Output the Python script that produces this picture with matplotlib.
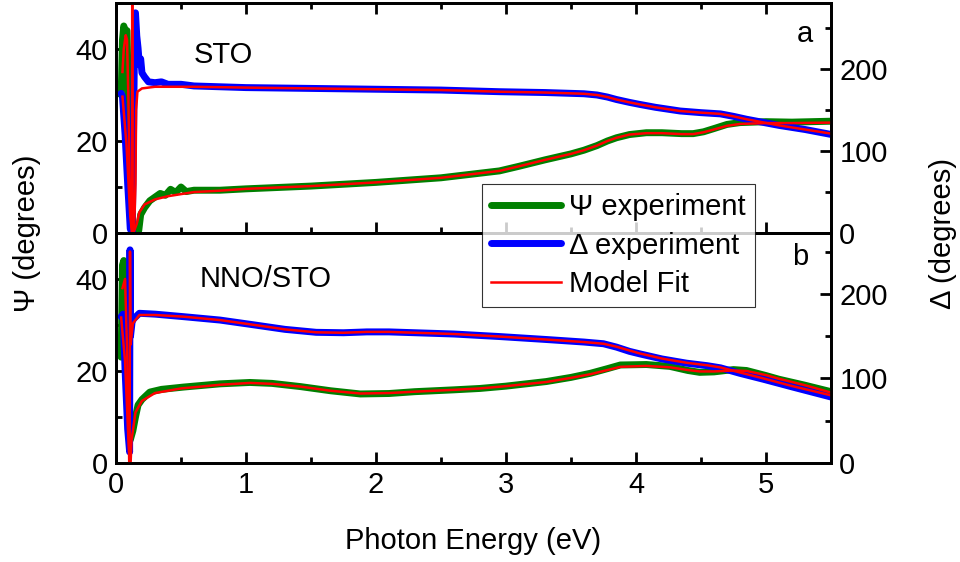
import matplotlib
matplotlib.use("Agg")
import matplotlib.pyplot as plt
from matplotlib.ticker import MultipleLocator

plt.rcParams['font.family'] = ['Liberation Sans', 'DejaVu Sans']

# ---- STO (panel a) ----
sto_psi_E = [0.04, 0.05, 0.06, 0.07, 0.085, 0.095, 0.11, 0.13, 0.15, 0.175, 0.19, 0.22, 0.26,
             0.30, 0.34, 0.38, 0.42, 0.46, 0.50, 0.54, 0.60, 0.80, 1.0, 1.5, 2.0, 2.5, 2.8,
             2.95, 3.1, 3.3, 3.5, 3.6, 3.7, 3.78, 3.85, 3.95, 4.08, 4.2, 4.35, 4.44, 4.52,
             4.6, 4.7, 4.8, 5.0, 5.2, 5.5]
sto_psi = [30, 42, 45, 44, 44, 30, 10, 1, 0, 0.5, 4, 5.5, 7.0,
           7.8, 8.6, 8.2, 9.5, 8.8, 10.0, 9.0, 9.3, 9.3, 9.6, 10.2, 11.0, 12.0, 13.0,
           13.5, 14.5, 15.9, 17.2, 18.0, 19.0, 20.0, 20.7, 21.4, 21.8, 21.8, 21.6, 21.6, 22.0,
           22.7, 23.6, 24.0, 24.2, 24.1, 24.3]

sto_del_E = [0.04, 0.05, 0.07, 0.09, 0.11, 0.125, 0.135, 0.145, 0.15, 0.16, 0.17, 0.18,
             0.19, 0.20, 0.22, 0.25, 0.30, 0.35, 0.40, 0.50, 0.60, 1.0, 1.5, 2.0, 2.5, 2.95,
             3.3, 3.5, 3.6, 3.7, 3.78, 3.85, 3.95, 4.03, 4.15, 4.34, 4.5, 4.65, 4.75, 4.85,
             5.0, 5.1, 5.3, 5.5]
sto_del = [170, 166, 120, 60, 5, 0, 120, 266, 268, 240, 225, 205,
           212, 195, 190, 184, 183, 184, 181, 181, 179, 177, 176, 175, 174, 172,
           171, 170, 169.5, 168, 165.5, 162.5, 159, 156.5, 153, 148.5, 146.5, 145, 142, 138.5,
           134, 131, 126, 120]

sto_psi_fit_E = [0.05, 0.06, 0.075, 0.085, 0.095, 0.105, 0.12, 0.14, 0.16, 0.18, 0.22, 0.30,
                 0.40, 0.60, 0.80, 1.0, 1.5, 2.0, 2.5, 2.95, 3.1, 3.3, 3.5, 3.6, 3.7, 3.78,
                 3.85, 3.95, 4.08, 4.2, 4.35, 4.44, 4.52, 4.6, 4.7, 4.8, 5.0, 5.2, 5.5]
sto_psi_fit = [35, 40, 43, 42, 30, 12, 2, 0.5, 2, 4.5, 6.2, 7.3,
               8.0, 8.9, 9.2, 9.6, 10.2, 11.0, 12.0, 13.5, 14.5, 15.9, 17.2, 18.0, 19.0, 20.0,
               20.7, 21.4, 21.7, 21.7, 21.5, 21.5, 21.9, 22.5, 23.3, 23.7, 23.9, 23.9, 24.0]

sto_del_fit_E = [0.05, 0.08, 0.11, 0.124, 0.125, 0.126, 0.14, 0.15, 0.155, 0.165, 0.2, 0.3,
                 0.6, 1.0, 1.5, 2.0, 2.5, 2.95, 3.3, 3.5, 3.6, 3.7, 3.78, 3.85, 3.95, 4.03,
                 4.15, 4.34, 4.5, 4.65, 4.75, 4.85, 5.0, 5.1, 5.3, 5.5]
sto_del_fit = [166, 110, 20, 0, 300, -10, 5, 60, 150, 172, 176, 178,
               178, 177, 176, 175, 174, 172, 171, 170, 169.5, 168, 165.5, 162.5, 159, 156.5,
               153, 148.5, 146.5, 145, 142, 138.5, 134, 131, 126, 121]

# ---- NNO/STO (panel b) ----
nno_psi_E = [0.04, 0.05, 0.06, 0.07, 0.08, 0.09, 0.10, 0.11, 0.13, 0.15, 0.17, 0.20, 0.26,
             0.35, 0.52, 0.80, 1.03, 1.2, 1.42, 1.65, 1.88, 2.1, 2.3, 2.6, 2.8, 3.0, 3.31,
             3.5, 3.65, 3.78, 3.88, 4.08, 4.26, 4.4, 4.49, 4.6, 4.75, 4.85, 5.0, 5.1, 5.3, 5.5]
nno_psi = [23, 43, 44, 35, 40, 25, 10, 5, 7, 10, 12.6, 13.8, 15.4,
           16.0, 16.5, 17.2, 17.5, 17.3, 16.6, 15.7, 15.0, 15.1, 15.5, 15.9, 16.2, 16.7, 17.7,
           18.6, 19.5, 20.5, 21.3, 21.4, 21.0, 20.1, 19.7, 19.8, 20.3, 20.1, 19.0, 18.2, 16.9, 15.5]

nno_del_E = [0.04, 0.055, 0.07, 0.09, 0.105, 0.108, 0.112, 0.125, 0.14, 0.18, 0.30, 0.52,
             0.80, 1.03, 1.3, 1.54, 1.75, 1.93, 2.1, 2.3, 2.6, 2.95, 3.31, 3.6, 3.75, 3.85,
             3.95, 4.03, 4.2, 4.39, 4.55, 4.65, 4.8, 4.98, 5.2, 5.5]
nno_del = [173, 176, 110, 40, 13, 252, 150, 168, 171, 177, 176, 173,
           169, 164, 158, 154.5, 154, 155, 155, 154, 152.5, 149.5, 146, 143, 141, 137,
           132, 129, 123, 118, 115, 112.5, 106, 99, 90, 78]

nno_psi_fit_E = [0.05, 0.07, 0.09, 0.105, 0.12, 0.15, 0.20, 0.30, 0.50, 0.80, 1.03, 1.2,
                 1.42, 1.65, 1.88, 2.1, 2.3, 2.6, 2.8, 3.0, 3.31, 3.5, 3.65, 3.78, 3.88,
                 4.08, 4.26, 4.4, 4.49, 4.6, 4.75, 4.85, 5.0, 5.1, 5.3, 5.5]
nno_psi_fit = [38, 40, 20, -5, 5, 11, 13.5, 15.2, 16.2, 17.0, 17.4, 17.2,
               16.6, 15.7, 15.1, 15.2, 15.5, 15.9, 16.2, 16.7, 17.6, 18.5, 19.3, 20.2, 20.9,
               21.1, 20.8, 20.2, 19.9, 19.9, 20.1, 20.0, 19.1, 18.3, 16.9, 15.3]

nno_del_fit_E = [0.04, 0.07, 0.095, 0.105, 0.108, 0.112, 0.13, 0.18, 0.30, 0.52, 0.80, 1.03,
                 1.3, 1.54, 1.75, 1.93, 2.1, 2.3, 2.6, 2.95, 3.31, 3.6, 3.75, 3.85, 3.95,
                 4.03, 4.2, 4.39, 4.55, 4.65, 4.8, 4.98, 5.2, 5.5]
nno_del_fit = [172, 120, 30, 5, 250, 140, 165, 175, 175, 173, 169, 164,
               158, 154.5, 154, 155, 155, 154, 152.5, 149.5, 146, 143, 141, 137.5, 133,
               129.5, 123.5, 118.5, 115.5, 113, 107, 100, 91, 80]

panel_tags = ['a', 'b']
panel_names = ['STO', 'NNO/STO']

GREEN = '#008000'
BLUE = '#0000ff'
RED = '#ff0000'
FS = 21

fig = plt.figure(figsize=(9.6, 5.62), dpi=100)
ax_top = fig.add_axes([0.1208, 0.5854, 0.7448, 0.4093])
ax_bot = fig.add_axes([0.1208, 0.1762, 0.7448, 0.4093], sharex=ax_top)

panels = [
    (ax_top, sto_psi_E, sto_psi, sto_del_E, sto_del, sto_psi_fit_E, sto_psi_fit,
     sto_del_fit_E, sto_del_fit, 280),
    (ax_bot, nno_psi_E, nno_psi, nno_del_E, nno_del, nno_psi_fit_E, nno_psi_fit,
     nno_del_fit_E, nno_del_fit, 272),
]
# text positions in axes fraction: (tag x, tag y, name x, name y)
text_pos = [(0.975, 0.83, 0.108, 0.739), (0.968, 0.861, 0.117, 0.765)]

handles = None
for i, (ax, pE, p, dE, d, pfE, pf, dfE, df, dtop) in enumerate(panels):
    axr = ax.twinx()
    ax.set_xlim(0, 5.5)
    ax.set_ylim(0, 50)
    axr.set_ylim(0, dtop)
    # all curves go on the right axes so the red fits stay on top
    l1, = axr.plot(pE, p, color=GREEN, lw=5, transform=ax.transData,
                   solid_capstyle='round', solid_joinstyle='round', label='Ψ experiment')
    l2, = axr.plot(dE, d, color=BLUE, lw=5, solid_capstyle='round',
                   solid_joinstyle='round', label='Δ experiment')
    l3, = axr.plot(pfE, pf, color=RED, lw=1.8, transform=ax.transData, label='Model Fit')
    axr.plot(dfE, df, color=RED, lw=1.8)
    if handles is None:
        handles = [l1, l2, l3]

    ax.yaxis.set_major_locator(MultipleLocator(20))
    ax.yaxis.set_minor_locator(MultipleLocator(10))
    axr.yaxis.set_major_locator(MultipleLocator(100))
    axr.yaxis.set_minor_locator(MultipleLocator(50))
    ax.xaxis.set_major_locator(MultipleLocator(1))
    ax.xaxis.set_minor_locator(MultipleLocator(0.5))

    ax.tick_params(which='both', direction='in', width=2, labelsize=FS,
                   top=(i == 0), right=False, labelbottom=(i == 1), pad=6)
    ax.tick_params(which='major', length=8)
    ax.tick_params(which='minor', length=4)
    axr.tick_params(which='both', direction='in', width=2, labelsize=FS, pad=6)
    axr.tick_params(which='major', length=8)
    axr.tick_params(which='minor', length=4)
    for a in (ax, axr):
        for s in a.spines.values():
            s.set_linewidth(2)

    tx, ty, nx, ny = text_pos[i]
    ax.text(tx, ty, panel_tags[i], transform=ax.transAxes, fontsize=FS,
            ha='right', va='baseline')
    ax.text(nx, ny, panel_names[i], transform=ax.transAxes, fontsize=FS,
            ha='left', va='baseline')

ax_bot.set_xlabel('Photon Energy (eV)', fontsize=FS, labelpad=20)
fig.text(0.028, 0.585, 'Ψ (degrees)', rotation=90, fontsize=FS, ha='center', va='center')
fig.text(0.982, 0.585, 'Δ (degrees)', rotation=90, fontsize=FS, ha='center', va='center')

leg = fig.legend(handles=handles, loc='upper left', bbox_to_anchor=(0.502, 0.6726),
                 fontsize=FS, frameon=True, fancybox=False, edgecolor='black',
                 borderaxespad=0, handlelength=2.4, labelspacing=0.37,
                 borderpad=0.3, handletextpad=0.3)
leg.get_frame().set_linewidth(0.8)
leg.set_zorder(10)

fig.savefig('out.png', dpi=100)
